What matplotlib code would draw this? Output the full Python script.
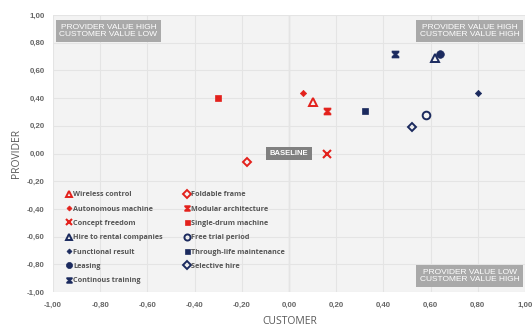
import matplotlib
matplotlib.use("Agg")
import matplotlib.pyplot as plt
from matplotlib.path import Path
import numpy as np

# ---- data ----
names = ["Wireless control", "Autonomous machine", "Concept freedom",
         "Hire to rental companies", "Functional result", "Leasing",
         "Continous training",
         "Foldable frame", "Modular architecture", "Single-drum machine",
         "Free trial period", "Through-life maintenance", "Selective hire"]
customer = [0.10, 0.06, 0.16, 0.62, 0.80, 0.64, 0.45,
            -0.18, 0.16, -0.30, 0.58, 0.32, 0.52]
provider = [0.37, 0.44, 0.00, 0.69, 0.44, 0.72, 0.72,
            -0.06, 0.31, 0.40, 0.28, 0.31, 0.19]
ticks = [-1.0, -0.8, -0.6, -0.4, -0.2, 0.0, 0.2, 0.4, 0.6, 0.8, 1.0]

RED = "#e3211c"
NAVY = "#1b2a5e"

hourglass = Path([(-1, 1), (1, 1), (1, 0.6), (0.35, 0), (1, -0.6), (1, -1),
                  (-1, -1), (-1, -0.6), (-0.35, 0), (-1, 0.6), (-1, 1)],
                 [Path.MOVETO] + [Path.LINETO] * 9 + [Path.CLOSEPOLY])

# (marker, color, filled, size, edge width)
styles = [
    ("^", RED, False, 5.5, 1.4),
    ("D", RED, True, 3.2, 0.5),
    ("x", RED, False, 6, 1.5),
    ("^", NAVY, False, 5.5, 1.4),
    ("D", NAVY, True, 3.2, 0.5),
    ("o", NAVY, True, 5.5, 0.5),
    (hourglass, NAVY, True, 5, 0.5),
    ("D", RED, False, 4.5, 1.4),
    (hourglass, RED, True, 5, 0.5),
    ("s", RED, True, 4.5, 0.5),
    ("o", NAVY, False, 5.5, 1.4),
    ("s", NAVY, True, 4.5, 0.5),
    ("D", NAVY, False, 4.5, 1.4),
]

fig = plt.figure(figsize=(5.32, 3.29), dpi=100)
ax = fig.add_axes([53 / 532, 1 - 292 / 329, 472 / 532, 277 / 329])
ax.set_facecolor("#f3f3f3")
ax.set_xlim(-1, 1)
ax.set_ylim(-1, 1)
ax.set_xticks(ticks)
ax.set_yticks(ticks)
fmt = lambda v: f"{v:.2f}".replace(".", ",").replace("-0,00", "0,00")
tfont = dict(family=["Liberation Sans", "DejaVu Sans"], size=5.7, weight="bold", color="#666666")
ax.set_xticklabels([fmt(v) for v in ticks], **tfont)
ax.set_yticklabels([fmt(v) for v in ticks], **tfont)
ax.tick_params(axis="x", length=0, pad=7)
ax.tick_params(axis="y", length=0, pad=6)
for s in ax.spines.values():
    s.set_visible(False)
ax.grid(True, color="#e4e4e4", lw=0.8)
ax.set_axisbelow(True)
ax.axvline(0, color="#d2d2d2", lw=0.9, zorder=0.5)

for n, x, y, (m, c, filled, ms, mew) in zip(names, customer, provider, styles):
    ax.plot([x], [y], linestyle="none", marker=m, markersize=ms,
            markerfacecolor=c if filled else "none", markeredgecolor=c,
            markeredgewidth=mew, label=n, zorder=3)

leg = ax.legend(ncol=2, loc="lower left", bbox_to_anchor=(0.015, 0.005),
                frameon=False, handlelength=0.6,
                handletextpad=0.3, columnspacing=3.0, labelspacing=1.0,
                markerscale=0.8,
                prop=dict(family=["Open Sans", "DejaVu Sans"], size=5.2, weight="bold"))
for t in leg.get_texts():
    t.set_color("#555555")

qfont = dict(family=["Liberation Sans", "DejaVu Sans"], size=6, color="white",
             ha="center", va="center", linespacing=1.15)
qbox = dict(boxstyle="square,pad=0.45", fc="#a9a9a9", ec="none")
ax.text(-0.765, 0.885, "PROVIDER VALUE HIGH\nCUSTOMER VALUE LOW", bbox=qbox, **qfont)
ax.text(0.765, 0.885, "PROVIDER VALUE HIGH\nCUSTOMER VALUE HIGH", bbox=qbox, **qfont)
ax.text(0.765, -0.885, "PROVIDER VALUE LOW\nCUSTOMER VALUE HIGH", bbox=qbox, **qfont)
ax.text(0.0, 0.0, "BASELINE", ha="center", va="center",
        family=["Liberation Sans", "DejaVu Sans"], size=5.5, weight="bold",
        color="white", bbox=dict(boxstyle="square,pad=0.45", fc="#808080", ec="none"),
        zorder=4)

lfont = dict(family=["Open Sans", "DejaVu Sans"], size=7.5, color="#595959")
fig.text(290 / 532, 1 - 321 / 329, "CUSTOMER", ha="center", va="center", **lfont)
fig.text(16 / 532, 1 - 153 / 329, "PROVIDER", ha="center", va="center",
         rotation=90, **lfont)

fig.savefig("out.png", dpi=100)
